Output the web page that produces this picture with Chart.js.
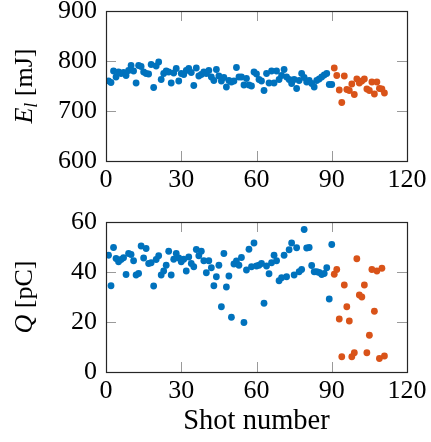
<!DOCTYPE html>
<html>
<head>
<meta charset="utf-8">
<script src="https://cdn.jsdelivr.net/npm/chart.js@4/dist/chart.umd.min.js"></script>
<style>
  html, body { margin: 0; padding: 0; background: #fff; }
  #wrap { position: relative; width: 431px; height: 442px; }
  canvas { position: absolute; left: 0; }
</style>
</head>
<body>
<div id="wrap">
  <canvas id="energy-chart" width="431" height="196" style="top:0"></canvas>
  <canvas id="charge-chart" width="431" height="242" style="top:200px"></canvas>
</div>
<script>
// shot numbers
const shotsBlue = [1,2,3,4,5,6,7,8,9,10,11,12,13,14,15,16,17,18,19,20,
  21,22,23,24,25,26,27,28,29,30,31,32,33,34,35,36,37,38,39,40,
  41,42,43,44,45,46,47,48,49,50,51,52,53,54,55,56,57,58,59,60,
  61,62,63,64,65,66,67,68,69,70,71,72,73,74,75,76,77,78,79,80,
  81,82,83,84,85,86,87,88,89,90];
const shotsOrange = [91,92,93,94,95,96,97,98,99,100,101,102,103,104,105,106,107,108,109,110,111];

// laser energy [mJ]
const energyBlue = [760,757,780,768,778,775,777,771,781,791,
  780,756,791,789,778,775,774,793,747,790,
  798,763,775,780,778,756,776,785,760,775,
  773,781,785,777,751,786,770,773,778,775,
  781,768,761,783,770,760,767,748,761,758,
  760,787,768,768,752,765,752,750,778,774,
  763,760,741,775,756,780,756,780,763,771,
  783,768,763,755,763,745,761,775,767,758,
  761,755,748,761,764,768,772,775,753,753];
const energyOrange = [786,771,742,717,770,743,741,754,733,764,756,760,764,744,741,758,734,758,745,744,736];

// charge [pC]
const chargeBlue = [46.7,34.5,49.8,45.4,44.1,45,45.7,39,47.4,47,
  44.5,38.8,39.4,50.4,45.6,49.4,43.4,43.7,34.4,45,
  46.5,38.8,40.4,42.7,48.3,38.8,45.1,47.4,45.6,44.1,
  45.1,40.4,46,43.4,42.1,49,46.5,48.3,44.5,39.7,
  44.5,41.7,34.5,38.1,42.7,26.1,47.4,34,38.4,21.9,
  43.2,44.4,42.7,45.8,19.8,40.8,49.1,42.1,51.6,42.4,
  42.7,43.4,27.5,42.4,39.3,43.7,46.7,44.5,36.5,37.7,
  46.7,38.1,48.9,51.6,38.8,49.7,40.1,41,57,49.6,
  49.8,42.6,40.1,40.1,39.8,39,39.4,41.7,29.2,51];
const chargeOrange = [39.1,41,21.2,6.1,34.8,26.1,20.4,6.1,7.7,45.3,30.8,30,34.8,7.7,14.7,41,24.3,40.4,5.4,41.5,6.4];

// tick labels
const xTicks = [0, 30, 60, 90, 120];
const energyTicks = [600, 700, 800, 900];
const chargeTicks = [0, 20, 40, 60];

const BLUE = '#0072BD';
const ORANGE = '#D95319';
const FONT = 'Liberation Serif';

function pts(xs, ys) {
  return xs.map((x, i) => ({ x: x, y: ys[i] }));
}

// inward tick marks + box frame
const boxTicks = {
  id: 'boxTicks',
  afterDraw(chart) {
    const { ctx, chartArea: a, scales } = chart;
    const len = 10;
    ctx.save();
    ctx.strokeStyle = '#9a9a9a';
    ctx.lineWidth = 1;
    ctx.beginPath();
    scales.x.ticks.forEach(t => {
      const px = Math.round(scales.x.getPixelForValue(t.value)) + 0.5;
      ctx.moveTo(px, a.bottom); ctx.lineTo(px, a.bottom - len);
      ctx.moveTo(px, a.top); ctx.lineTo(px, a.top + len);
    });
    scales.y.ticks.forEach(t => {
      const py = Math.round(scales.y.getPixelForValue(t.value)) + 0.5;
      ctx.moveTo(a.left, py); ctx.lineTo(a.left + len, py);
      ctx.moveTo(a.right, py); ctx.lineTo(a.right - len, py);
    });
    ctx.stroke();
    ctx.strokeStyle = '#262626';
    ctx.lineWidth = 1.2;
    ctx.strokeRect(Math.round(a.left) + 0.5, Math.round(a.top) + 0.5,
      Math.round(a.width), Math.round(a.height));
    ctx.restore();
  }
};

// rotated y title with italic / subscript parts
const richTitle = {
  id: 'richTitle',
  afterDraw(chart, args, opts) {
    if (!opts.parts) return;
    const { ctx, chartArea: a } = chart;
    const fnt = p => (p.italic ? 'italic ' : '') + (p.sub ? 18 : 26) + 'px "' + FONT + '"';
    ctx.save();
    ctx.translate(opts.x, (a.top + a.bottom) / 2);
    ctx.rotate(-Math.PI / 2);
    ctx.fillStyle = '#000';
    ctx.textBaseline = 'middle';
    let w = 0;
    opts.parts.forEach(p => { ctx.font = fnt(p); w += ctx.measureText(p.text).width; });
    let x = -w / 2;
    opts.parts.forEach(p => {
      ctx.font = fnt(p);
      ctx.fillText(p.text, x, p.sub ? 7 : 0);
      x += ctx.measureText(p.text).width;
    });
    ctx.restore();
  }
};

function mkOpts(yMin, yMax, yTicks, titleParts, xHeight, padTop, xTitle) {
  return {
    responsive: false,
    animation: false,
    layout: { autoPadding: false, padding: { left: 0, right: 24, top: padTop, bottom: 0 } },
    plugins: {
      legend: { display: false },
      tooltip: { enabled: false },
      richTitle: { parts: titleParts, x: 25 }
    },
    scales: {
      x: {
        type: 'linear', min: 0, max: 120,
        afterBuildTicks: s => { s.ticks = xTicks.map(v => ({ value: v })); },
        afterFit: s => { s.height = xHeight; s.paddingLeft = 0; s.paddingRight = 0; },
        grid: { display: false, drawTicks: false },
        border: { display: false },
        ticks: { color: '#000', padding: 4, font: { family: FONT, size: 26 } },
        title: xTitle ? { display: true, text: xTitle, color: '#000',
          font: { family: FONT, size: 28.5 }, padding: { top: 0, bottom: 3 } } : { display: false }
      },
      y: {
        min: yMin, max: yMax,
        afterBuildTicks: s => { s.ticks = yTicks.map(v => ({ value: v })); },
        afterFit: s => { s.width = 106; s.paddingTop = 0; s.paddingBottom = 0; },
        grid: { display: false, drawTicks: false },
        border: { display: false },
        ticks: { color: '#000', padding: 9, font: { family: FONT, size: 26 } }
      }
    }
  };
}

function mkData(xsA, ysA, xsB, ysB) {
  const style = c => ({ backgroundColor: c, borderWidth: 0, pointRadius: 3.4, pointHoverRadius: 3.4 });
  return {
    datasets: [
      Object.assign({ data: pts(xsA, ysA) }, style(BLUE)),
      Object.assign({ data: pts(xsB, ysB) }, style(ORANGE))
    ]
  };
}

new Chart(document.getElementById('energy-chart'), {
  type: 'scatter',
  data: mkData(shotsBlue, energyBlue, shotsOrange, energyOrange),
  options: mkOpts(600, 900, energyTicks,
    [{ text: 'E', italic: true }, { text: 'l', italic: true, sub: true }, { text: ' [mJ]' }],
    35, 11, null),
  plugins: [boxTicks, richTitle]
});

new Chart(document.getElementById('charge-chart'), {
  type: 'scatter',
  data: mkData(shotsBlue, chargeBlue, shotsOrange, chargeOrange),
  options: mkOpts(0, 60, chargeTicks,
    [{ text: 'Q', italic: true }, { text: ' [pC]' }],
    70, 22, 'Shot number'),
  plugins: [boxTicks, richTitle]
});
</script>
</body>
</html>
